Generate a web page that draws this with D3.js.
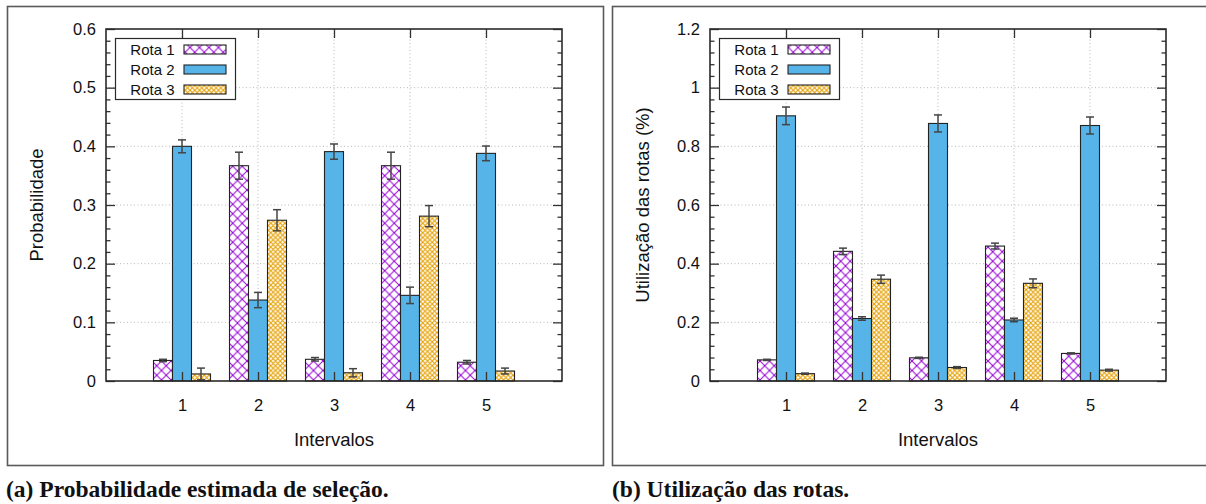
<!DOCTYPE html>
<html><head><meta charset="utf-8">
<script src="https://cdn.jsdelivr.net/npm/d3@7"></script>
<style>
html,body{margin:0;padding:0;background:#fff;}
svg{display:block;}
text{font-family:"Liberation Sans",Arial,Helvetica,sans-serif;fill:#111;}
</style></head>
<body>
<svg id="chart" width="1206" height="504"></svg>
<script>
// ---------- data ----------
const intervals = [1, 2, 3, 4, 5];
const seriesNames = ["Rota 1", "Rota 2", "Rota 3"];

// (a) Probabilidade estimada de seleção
const probRota1 = [0.035, 0.367, 0.037, 0.367, 0.032];
const probErr1  = [0.002, 0.023, 0.003, 0.023, 0.003];
const probRota2 = [0.400, 0.138, 0.391, 0.146, 0.388];
const probErr2  = [0.011, 0.013, 0.013, 0.014, 0.0125];
const probRota3 = [0.012, 0.274, 0.014, 0.281, 0.017];
const probErr3  = [0.010, 0.018, 0.007, 0.018, 0.005];
const probTicks = [0, 0.1, 0.2, 0.3, 0.4, 0.5, 0.6];

// (b) Utilização das rotas
const useRota1 = [0.072, 0.442, 0.079, 0.460, 0.094];
const useErr1  = [0.002, 0.011, 0.002, 0.010, 0.002];
const useRota2 = [0.904, 0.213, 0.878, 0.208, 0.871];
const useErr2  = [0.030, 0.006, 0.029, 0.006, 0.029];
const useRota3 = [0.025, 0.347, 0.046, 0.333, 0.037];
const useErr3  = [0.002, 0.014, 0.003, 0.015, 0.003];
const useTicks = [0, 0.2, 0.4, 0.6, 0.8, 1, 1.2];

// ---------- drawing ----------
const svg = d3.select("#chart");
const colors = { purple: "#9400d3", blue: "#56b4e9", orange: "#e69f00" };

const defs = svg.append("defs");
const p1 = defs.append("pattern").attr("id", "pat1")
  .attr("patternUnits", "userSpaceOnUse").attr("width", 9.5).attr("height", 9.5);
p1.append("rect").attr("width", 9.5).attr("height", 9.5).attr("fill", "#fff");
p1.append("path").attr("d", "M-1,-1L10.5,10.5M10.5,-1L-1,10.5")
  .attr("stroke", colors.purple).attr("stroke-width", 1.0).attr("fill", "none");
const p3 = defs.append("pattern").attr("id", "pat3")
  .attr("patternUnits", "userSpaceOnUse").attr("width", 4.75).attr("height", 4.75);
p3.append("rect").attr("width", 4.75).attr("height", 4.75).attr("fill", "#fff");
p3.append("path").attr("d", "M-1,-1L5.75,5.75M5.75,-1L-1,5.75")
  .attr("stroke", colors.orange).attr("stroke-width", 1.1).attr("fill", "none");

const fills = ["url(#pat1)", colors.blue, "url(#pat3)"];

function panel(cfg) {
  const g = svg.append("g");
  // outer frame
  g.append("rect").attr("x", cfg.frame[0]).attr("y", cfg.frame[1])
    .attr("width", cfg.frame[2]).attr("height", cfg.frame[3])
    .attr("fill", "none").attr("stroke", "#5a5a5a").attr("stroke-width", 1.6);

  const x = d3.scaleLinear().domain([0, 6]).range([cfg.left, cfg.right]);
  const y = d3.scaleLinear().domain([0, cfg.ticks[cfg.ticks.length - 1]]).range([cfg.bottom, cfg.top]);
  const step = cfg.ticks[1] - cfg.ticks[0];
  const minor = d3.range(0, cfg.ticks.length * 5 - 4).map(i => +(i * step / 5).toFixed(6))
    .filter((v, i) => i % 5 !== 0);

  // grid
  const grid = g.append("g").attr("stroke", "#b8b8b8").attr("stroke-width", 1)
    .attr("stroke-dasharray", "1,2.5");
  cfg.ticks.slice(1, -1).forEach(v => grid.append("line")
    .attr("x1", cfg.left).attr("x2", cfg.right).attr("y1", y(v)).attr("y2", y(v)));
  intervals.forEach(v => grid.append("line")
    .attr("x1", x(v)).attr("x2", x(v)).attr("y1", cfg.top).attr("y2", cfg.bottom));

  // bars
  const bw = x(0.25) - x(0);
  cfg.values.forEach((vals, s) => {
    const off = (s - 1) * 0.25;
    const bg = g.append("g");
    bg.selectAll("rect").data(vals).join("rect")
      .attr("x", (d, i) => x(intervals[i] + off) - bw / 2)
      .attr("y", d => y(d)).attr("width", bw).attr("height", d => y(0) - y(d))
      .attr("fill", fills[s]).attr("stroke", "#222").attr("stroke-width", 1.1);
  });
  // error bars
  cfg.values.forEach((vals, s) => {
    const off = (s - 1) * 0.25;
    const eg = g.append("g").attr("stroke", "#444").attr("stroke-width", 1.5);
    vals.forEach((d, i) => {
      const cx = x(intervals[i] + off), e = cfg.errors[s][i];
      const y1 = y(d + e), y2 = y(Math.max(0, d - e));
      eg.append("line").attr("x1", cx).attr("x2", cx).attr("y1", y1).attr("y2", y2);
      eg.append("line").attr("x1", cx - 4).attr("x2", cx + 4).attr("y1", y1).attr("y2", y1);
      eg.append("line").attr("x1", cx - 4).attr("x2", cx + 4).attr("y1", y2).attr("y2", y2);
    });
  });

  // axes
  const styleAxis = sel => {
    sel.select(".domain").remove();
    sel.selectAll("line").attr("stroke", "#333").attr("stroke-width", 1.3);
    sel.selectAll("text").style("font-size", "16.5px").attr("fill", "#111");
  };
  const fmt = d => String(d);
  g.append("g").attr("transform", `translate(${cfg.left},0)`)
    .call(d3.axisLeft(y).tickValues(cfg.ticks).tickFormat(fmt).tickSize(-9).tickPadding(10)).call(styleAxis);
  g.append("g").attr("transform", `translate(${cfg.left},0)`)
    .call(d3.axisLeft(y).tickValues(minor).tickFormat("").tickSize(-4.5)).call(styleAxis);
  g.append("g").attr("transform", `translate(${cfg.right},0)`)
    .call(d3.axisRight(y).tickValues(cfg.ticks).tickFormat("").tickSize(-9)).call(styleAxis);
  g.append("g").attr("transform", `translate(${cfg.right},0)`)
    .call(d3.axisRight(y).tickValues(minor).tickFormat("").tickSize(-4.5)).call(styleAxis);
  g.append("g").attr("transform", `translate(0,${cfg.bottom})`)
    .call(d3.axisBottom(x).tickValues(intervals).tickFormat(fmt).tickSize(-9).tickPadding(18)).call(styleAxis);
  g.append("g").attr("transform", `translate(0,${cfg.top})`)
    .call(d3.axisTop(x).tickValues(intervals).tickFormat("").tickSize(-9)).call(styleAxis);

  // plot border
  g.append("rect").attr("x", cfg.left).attr("y", cfg.top)
    .attr("width", cfg.right - cfg.left).attr("height", cfg.bottom - cfg.top)
    .attr("fill", "none").attr("stroke", "#2a2a2a").attr("stroke-width", 1.6);

  // legend
  const lx = cfg.left + 9.5, ly = cfg.top + 9.5;
  const lg = g.append("g");
  lg.append("rect").attr("x", lx).attr("y", ly).attr("width", 120).attr("height", 61)
    .attr("fill", "#fff").attr("stroke", "#2a2a2a").attr("stroke-width", 1.2);
  seriesNames.forEach((name, s) => {
    const cy = ly + 11 + s * 20;
    lg.append("text").attr("x", lx + 59).attr("y", cy).attr("dy", "0.36em")
      .attr("text-anchor", "end").style("font-size", "15px").text(name);
    lg.append("rect").attr("x", lx + 68.5).attr("y", cy - 4.5).attr("width", 42).attr("height", 9)
      .attr("fill", fills[s]).attr("stroke", "#222").attr("stroke-width", 1.1);
  });

  // axis labels
  g.append("text").attr("x", (cfg.left + cfg.right) / 2).attr("y", 446)
    .attr("text-anchor", "middle").style("font-size", "18.5px").text("Intervalos");
  g.append("text").attr("transform", `translate(${cfg.ylabelX},${(cfg.top + cfg.bottom) / 2}) rotate(-90)`)
    .attr("text-anchor", "middle").attr("dy", "0.35em").style("font-size", "18.5px").text(cfg.ylabel);

  // caption
  g.append("text").attr("x", cfg.captionX).attr("y", 497)
    .style("font-family", "'Liberation Serif', 'DejaVu Serif', serif")
    .style("font-weight", "bold").style("font-size", "23.5px").attr("fill", "#000")
    .text(cfg.caption);
}

panel({
  frame: [7.5, 6.5, 596, 459], left: 106, right: 562, top: 29, bottom: 381,
  ticks: probTicks, values: [probRota1, probRota2, probRota3], errors: [probErr1, probErr2, probErr3],
  ylabel: "Probabilidade", ylabelX: 37,
  caption: "(a) Probabilidade estimada de seleção.", captionX: 6
});
panel({
  frame: [612.5, 6.5, 620, 459], left: 710, right: 1166, top: 29, bottom: 381,
  ticks: useTicks, values: [useRota1, useRota2, useRota3], errors: [useErr1, useErr2, useErr3],
  ylabel: "Utilização das rotas (%)", ylabelX: 643,
  caption: "(b) Utilização das rotas.", captionX: 612
});
</script>
</body></html>
